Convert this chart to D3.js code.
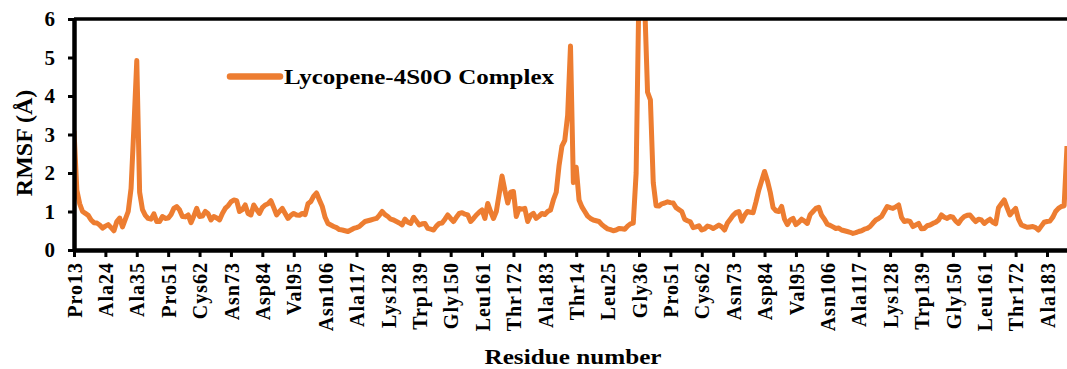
<!DOCTYPE html>
<html lang="en">
<head>
<meta charset="UTF-8">
<title>RMSF</title>
<script src="https://cdnjs.cloudflare.com/ajax/libs/d3/7.8.5/d3.min.js"></script>
<style>
  body { margin: 0; background: #fff; }
  svg text { font-family: "Liberation Serif", "Times New Roman", serif; font-weight: bold; fill: #000; }
</style>
</head>
<body>
<script>
// series, one value per residue (index order)
var seriesName = "Lycopene-4S0O Complex";
var rmsf = [
  3.1, 1.55, 1.2, 1.0, 0.95, 0.9, 0.78, 0.71, 0.7, 0.65,
  0.57, 0.62, 0.66, 0.58, 0.5, 0.74, 0.83, 0.6, 0.8, 1.0,
  1.6, 3.2, 4.92, 1.5, 1.05, 0.9, 0.82, 0.8, 0.94, 0.74,
  0.74, 0.87, 0.82, 0.83, 0.92, 1.08, 1.13, 1.04, 0.87, 0.86,
  0.91, 0.71, 0.88, 1.08, 0.87, 0.88, 1.0, 0.94, 0.78, 0.87,
  0.83, 0.78, 0.95, 1.08, 1.15, 1.25, 1.3, 1.28, 1.0, 1.05,
  1.17, 0.95, 0.91, 1.17, 1.05, 0.95, 1.1, 1.17, 1.2, 1.28,
  1.1, 0.91, 1.0, 1.08, 0.95, 0.82, 0.9, 0.95, 0.91, 0.9,
  0.95, 0.92, 1.2, 1.26, 1.4, 1.48, 1.3, 1.13, 0.85, 0.69,
  0.65, 0.61, 0.58, 0.53, 0.52, 0.5, 0.48, 0.52, 0.56, 0.58,
  0.61, 0.68, 0.74, 0.76, 0.78, 0.8, 0.82, 0.9, 1.0, 0.92,
  0.87, 0.8, 0.78, 0.74, 0.7, 0.65, 0.8, 0.72, 0.69, 0.85,
  0.75, 0.65, 0.68, 0.69, 0.56, 0.54, 0.52, 0.62, 0.69, 0.7,
  0.8, 0.91, 0.82, 0.74, 0.85, 0.95, 0.97, 0.93, 0.91, 0.74,
  0.82, 0.91, 0.98, 1.04, 0.82, 1.21, 1.0, 0.82, 1.0, 1.45,
  1.92, 1.55, 1.22, 1.5, 1.52, 0.87, 1.08, 1.06, 1.08, 0.74,
  0.9, 0.95, 0.82, 0.88, 0.95, 0.92, 1.0, 1.04, 1.3, 1.5,
  2.2, 2.7, 2.85, 3.5, 5.3, 1.75, 2.15, 1.3, 1.12, 1.0,
  0.88, 0.82, 0.78, 0.76, 0.74, 0.66, 0.6, 0.55, 0.53, 0.5,
  0.52, 0.56, 0.55, 0.54, 0.62, 0.68, 0.7, 2.0, 6.8, 7.2,
  6.4, 4.1, 3.9, 1.75, 1.15, 1.14, 1.2, 1.22, 1.25, 1.23,
  1.22, 1.1, 1.05, 1.0, 0.8, 0.76, 0.73, 0.58, 0.6, 0.63,
  0.52, 0.55, 0.62, 0.6, 0.56, 0.6, 0.65, 0.6, 0.52, 0.7,
  0.8, 0.9, 0.97, 1.0, 0.75, 0.9, 1.0, 0.98, 0.97, 1.25,
  1.56, 1.8, 2.04, 1.8, 1.5, 1.1, 1.02, 1.0, 1.13, 0.8,
  0.66, 0.78, 0.82, 0.66, 0.72, 0.8, 0.75, 0.69, 0.92, 1.0,
  1.08, 1.11, 0.9, 0.8, 0.67, 0.64, 0.6, 0.56, 0.57, 0.52,
  0.5, 0.48, 0.46, 0.43, 0.45, 0.48, 0.5, 0.54, 0.56, 0.61,
  0.7, 0.78, 0.82, 0.87, 1.0, 1.13, 1.1, 1.08, 1.12, 1.17,
  0.85, 0.74, 0.76, 0.74, 0.61, 0.65, 0.69, 0.55, 0.56, 0.63,
  0.65, 0.69, 0.72, 0.78, 0.91, 0.85, 0.82, 0.87, 0.85, 0.75,
  0.69, 0.8, 0.87, 0.9, 0.91, 0.82, 0.74, 0.8, 0.78, 0.69,
  0.75, 0.8, 0.72, 0.68, 1.1, 1.2, 1.3, 1.1, 0.91, 1.0,
  1.08, 0.8, 0.65, 0.62, 0.59, 0.6, 0.61, 0.58, 0.52, 0.62,
  0.72, 0.74, 0.75, 0.85, 1.0, 1.08, 1.13, 1.15, 2.7
];

// every 11th residue carries a label
var tickLabels = [
  "Pro13", "Ala24", "Ala35", "Pro51", "Cys62", "Asn73", "Asp84", "Val95",
  "Asn106", "Ala117", "Lys128", "Trp139", "Gly150", "Leu161", "Thr172", "Ala183",
  "Thr14", "Leu25", "Gly36", "Pro51", "Cys62", "Asn73", "Asp84", "Val95",
  "Asn106", "Ala117", "Lys128", "Trp139", "Gly150", "Leu161", "Thr172", "Ala183"
];
var tickStep = 11;
var yTicks = [0, 1, 2, 3, 4, 5, 6];

var width = 1067, height = 369;
var plot = { left: 74, right: 1067, top: 19, bottom: 250 };
var orange = "#ED7D31";

var svg = d3.select("body").append("svg")
  .attr("width", width)
  .attr("height", height);

var x = d3.scaleLinear().domain([0, rmsf.length - 1]).range([plot.left, plot.right]);
var y = d3.scaleLinear().domain([0, 6]).range([plot.bottom, plot.top]);

svg.append("clipPath").attr("id", "clip")
  .append("rect")
  .attr("x", plot.left).attr("y", plot.top)
  .attr("width", plot.right - plot.left).attr("height", plot.bottom - plot.top);

// line
var line = d3.line()
  .x(function(d, i) { return x(i); })
  .y(function(d) { return y(d); });

svg.append("path")
  .datum(rmsf)
  .attr("clip-path", "url(#clip)")
  .attr("fill", "none")
  .attr("stroke", orange)
  .attr("stroke-width", 5)
  .attr("stroke-linejoin", "round")
  .attr("d", line);

// top border of plot area
svg.append("line")
  .attr("x1", plot.left).attr("x2", plot.right)
  .attr("y1", plot.top).attr("y2", plot.top)
  .attr("stroke", "#000").attr("stroke-width", 3.5);

// x axis
var xAxis = d3.axisBottom(x)
  .tickValues(tickLabels.map(function(d, i) { return i * tickStep; }))
  .tickFormat(function(d, i) { return tickLabels[i]; })
  .tickSize(7)
  .tickSizeOuter(0);

var gx = svg.append("g")
  .attr("transform", "translate(0," + plot.bottom + ")")
  .call(xAxis);
gx.select(".domain").attr("stroke-width", 4.5);
gx.selectAll(".tick line").attr("stroke-width", 3);
gx.selectAll(".tick text")
  .attr("transform", "rotate(-90)")
  .attr("text-anchor", "end")
  .attr("x", -12)
  .attr("y", 0)
  .attr("dy", "0.36em")
  .style("font-size", "20px")
  .style("letter-spacing", "1px");

// y axis
var yAxis = d3.axisLeft(y)
  .tickValues(yTicks)
  .tickFormat(d3.format("d"))
  .tickSize(6)
  .tickSizeOuter(0)
  .tickPadding(13);

var gy = svg.append("g")
  .attr("transform", "translate(" + plot.left + ",0)")
  .call(yAxis);
gy.select(".domain").attr("stroke-width", 4.5);
gy.selectAll(".tick line").attr("stroke-width", 3);
gy.selectAll(".tick text").style("font-size", "21px");

// axis titles
svg.append("text")
  .attr("x", 573).attr("y", 364)
  .attr("text-anchor", "middle")
  .attr("textLength", 177)
  .attr("lengthAdjust", "spacingAndGlyphs")
  .style("font-size", "22px")
  .text("Residue number");

svg.append("text")
  .attr("transform", "translate(32,143) rotate(-90)")
  .attr("text-anchor", "middle")
  .style("font-size", "24px")
  .text("RMSF (Å)");

// legend
var legend = svg.append("g").attr("transform", "translate(230,76.5)");
legend.append("line")
  .attr("x1", 0).attr("x2", 50)
  .attr("stroke", orange).attr("stroke-width", 6.5)
  .attr("stroke-linecap", "round");
legend.append("text")
  .attr("x", 54).attr("y", 7.5)
  .attr("textLength", 270)
  .attr("lengthAdjust", "spacingAndGlyphs")
  .style("font-size", "22px")
  .text(seriesName);
</script>
</body>
</html>
